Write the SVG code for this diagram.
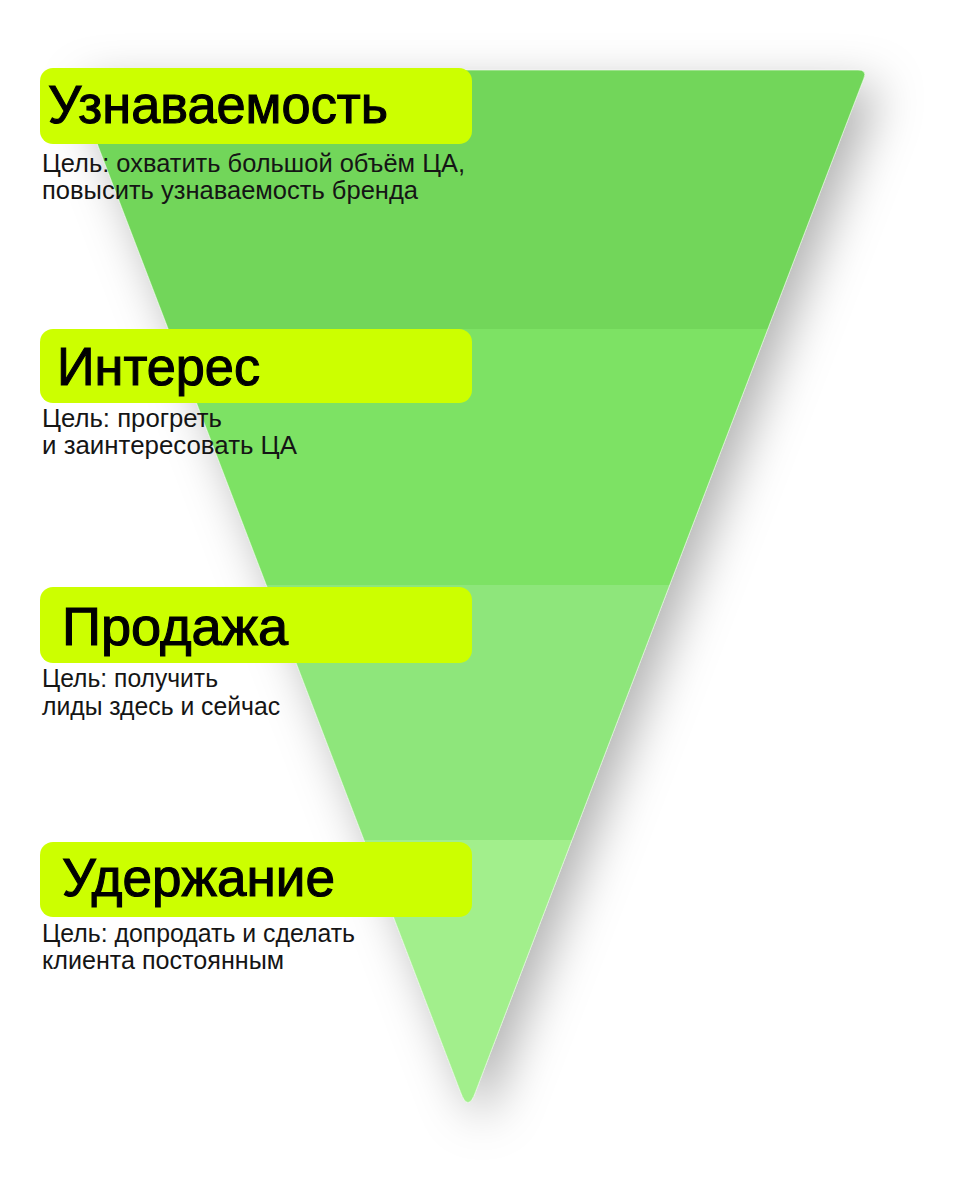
<svg xmlns="http://www.w3.org/2000/svg" width="967" height="1200" viewBox="0 0 967 1200">
  <style>
    .box { fill: #CCFF00; }
    .title { font-family: "Liberation Sans", Arial, sans-serif; font-size: 54px; fill: #000; stroke: #000; stroke-width: 1.1px; }
    .sub { font-family: "Liberation Sans", Arial, sans-serif; font-size: 25px; fill: #151515; }
  </style>
  <defs>
    <filter id="shadow" x="-25%" y="-20%" width="150%" height="145%">
      <feDropShadow dx="14" dy="16" stdDeviation="24" flood-color="#000" flood-opacity="0.3"/>
    </filter>
    <clipPath id="funnelClip">
      <path d="M 72,78 Q 69,70 78,70 L 858,70 Q 867,70 864,78 L 475.5,1092 Q 468,1113 460.5,1092 Z"/>
    </clipPath>
  </defs>
  <rect width="967" height="1200" fill="#fff"/>
  <g id="funnel">
    <path d="M 72,78 Q 69,70 78,70 L 858,70 Q 867,70 864,78 L 475.5,1092 Q 468,1113 460.5,1092 Z" fill="#7DE264" filter="url(#shadow)"/>
    <g clip-path="url(#funnelClip)">
      <rect x="40" y="60" width="860" height="269" fill="#72D65A"/>
      <rect x="40" y="329" width="860" height="256" fill="#7DE264"/>
      <rect x="40" y="585" width="860" height="255" fill="#8EE67B"/>
      <rect x="40" y="840" width="860" height="280" fill="#A2EF8C"/>
    </g>
    <path d="M 72,78 Q 69,70 78,70 L 858,70 Q 867,70 864,78 L 475.5,1092 Q 468,1113 460.5,1092 Z" fill="none" stroke="#fff" stroke-opacity="0.6" stroke-width="1"/>
  </g>
  <g id="stage1">
    <rect class="box" x="40" y="68" width="432" height="76" rx="13"/>
    <text class="title" x="48" y="123" textLength="340" lengthAdjust="spacingAndGlyphs">Узнаваемость</text>
    <text class="sub" x="42" y="172" textLength="423" lengthAdjust="spacingAndGlyphs">Цель: охватить большой объём ЦА,</text>
    <text class="sub" x="42" y="199" textLength="376" lengthAdjust="spacingAndGlyphs">повысить узнаваемость бренда</text>
  </g>
  <g id="stage2">
    <rect class="box" x="40" y="329" width="432" height="74" rx="13"/>
    <text class="title" x="57" y="385" textLength="203" lengthAdjust="spacingAndGlyphs">Интерес</text>
    <text class="sub" x="42" y="427" textLength="180" lengthAdjust="spacingAndGlyphs">Цель: прогреть</text>
    <text class="sub" x="42" y="454" textLength="255" lengthAdjust="spacingAndGlyphs">и заинтересовать ЦА</text>
  </g>
  <g id="stage3">
    <rect class="box" x="40" y="587" width="432" height="76" rx="13"/>
    <text class="title" x="62" y="645" textLength="226" lengthAdjust="spacingAndGlyphs">Продажа</text>
    <text class="sub" x="42" y="687" textLength="176" lengthAdjust="spacingAndGlyphs">Цель: получить</text>
    <text class="sub" x="42" y="715" textLength="238" lengthAdjust="spacingAndGlyphs">лиды здесь и сейчас</text>
  </g>
  <g id="stage4">
    <rect class="box" x="40" y="842" width="432" height="75" rx="13"/>
    <text class="title" x="62" y="896" textLength="273" lengthAdjust="spacingAndGlyphs">Удержание</text>
    <text class="sub" x="42" y="942" textLength="313" lengthAdjust="spacingAndGlyphs">Цель: допродать и сделать</text>
    <text class="sub" x="42" y="969" textLength="242" lengthAdjust="spacingAndGlyphs">клиента постоянным</text>
  </g>
  <g id="connectors"/>
</svg>
